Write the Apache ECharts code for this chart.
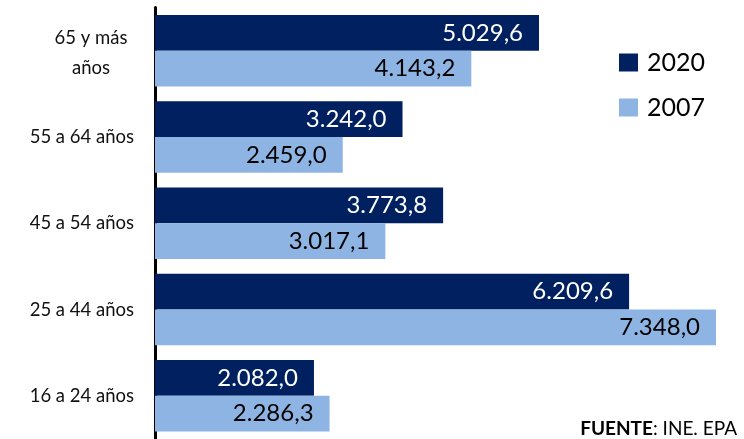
<!DOCTYPE html>
<html><head><meta charset="utf-8">
<script src="https://cdn.jsdelivr.net/npm/echarts@6/dist/echarts.min.js"></script>
<style>html,body{margin:0;padding:0;background:#fff}#c{width:744px;height:439px}</style>
</head><body><div id="c"></div>
<script>
var categories = ['16 a 24 años', '25 a 44 años', '45 a 54 años', '55 a 64 años', '65 y más\naños'];
var values2020 = [2082.0, 6209.6, 3773.8, 3242.0, 5029.6];
var values2007 = [2286.3, 7348.0, 3017.1, 2459.0, 4143.2];
var seriesNames = ['2020', '2007'];

function fmt(v) {
  var s = v.toFixed(1).split('.');
  var i = s[0].replace(/\B(?=(\d{3})+(?!\d))/g, '.');
  return i + ',' + s[1];
}
var FONT = 'Lato';
var chart = echarts.init(document.getElementById('c'), null, {renderer: 'canvas'});
chart.setOption({
  animation: false,
  backgroundColor: '#fff',
  grid: {left: 155, top: 7.5, width: 561, height: 435, containLabel: false},
  xAxis: {type: 'value', min: 0, max: 7348, show: false},
  yAxis: {
    type: 'category', data: categories,
    axisLine: {show: true, lineStyle: {color: '#000', width: 3}},
    axisTick: {show: false},
    axisLabel: {
      color: '#111', fontFamily: FONT, fontSize: 18.5, margin: 21, lineHeight: 30,
      formatter: function (v) {
        if (v.indexOf('\n') >= 0) return v.split('\n').map(function (s) { return '{c|' + s + '}'; }).join('\n');
        return v;
      },
      rich: {c: {width: 86, align: 'center', fontFamily: FONT, fontSize: 18.5, color: '#111', lineHeight: 30, padding: [4, 0, 0, 0]}}
    }
  },
  legend: {
    data: ['2020', '2007'], orient: 'vertical', left: 614, top: 45,
    icon: 'rect', itemWidth: 19, itemHeight: 18, itemGap: 20,
    textStyle: {fontFamily: FONT, fontSize: 25, color: '#000', padding: [0, 0, 0, 4]}
  },
  series: [
    {
      name: seriesNames[0], type: 'bar', data: values2020, barGap: '0%', barCategoryGap: '17.2%',
      itemStyle: {color: '#002060'},
      label: {show: true, position: 'insideRight', distance: 16, color: '#fff', fontFamily: FONT, fontSize: 24,
        formatter: function (p) { return fmt(p.value); }}
    },
    {
      name: seriesNames[1], type: 'bar', data: values2007, barGap: '0%', barCategoryGap: '17.2%',
      itemStyle: {color: '#8eb4e3'},
      label: {show: true, position: 'insideRight', distance: 16, color: '#000', fontFamily: FONT, fontSize: 24,
        formatter: function (p) { return fmt(p.value); }}
    }
  ],
  graphic: [{
    type: 'text', right: 7, top: 419,
    style: {
      text: '{b|FUENTE}{n|: INE. EPA}',
      rich: {
        b: {fontFamily: FONT, fontSize: 19, fontWeight: 'bold', fill: '#000', color: '#000'},
        n: {fontFamily: FONT, fontSize: 19, fill: '#000', color: '#000'}
      }
    }
  }]
});
</script></body></html>
